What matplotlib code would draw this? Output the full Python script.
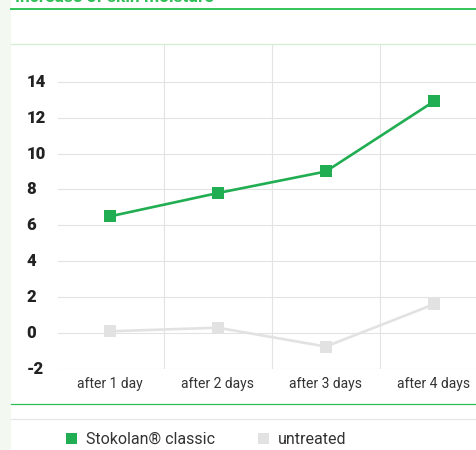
import matplotlib.pyplot as plt
from matplotlib.lines import Line2D
from matplotlib.patches import Rectangle

categories = ["after 1 day", "after 2 days", "after 3 days", "after 4 days"]
stokolan = [6.5, 7.8, 9.0, 12.9]
untreated = [0.1, 0.3, -0.75, 1.6]
yticks = [-2, 0, 2, 4, 6, 8, 10, 12, 14]

green = "#21ad52"
grey = "#e2e2e2"
W, H = 477, 450

fig = plt.figure(figsize=(W / 100, H / 100), dpi=100)
fig.patch.set_facecolor("white")

# left pale strip
fig.patches.append(Rectangle((0, 0), 11 / W, 1, transform=fig.transFigure,
                             facecolor="#f3f8f1", edgecolor="none", zorder=0))


def hline(ypx, color, lw, x0=11):
    y = 1 - ypx / H
    fig.add_artist(Line2D([x0 / W, 1], [y, y], transform=fig.transFigure,
                          color=color, lw=lw, zorder=1))


hline(8.5, "#1fbf4a", 1.3)
hline(44, "#d6eed6", 1.0)
hline(404, "#2fbf55", 0.9)
hline(419, "#e6e6e6", 0.9)

# title, mostly above the top edge as in the source
fig.text(15 / W, 1 - 2 / H, "Increase of skin moisture", color="#2fbf55",
         fontsize=12.5, fontweight="bold", family="Roboto", va="baseline")

ax = fig.add_axes([58 / W, 1 - 369 / H, 1 - 58 / W, (369 - 44) / H])
x = list(range(len(categories)))
ax.plot(x, untreated, color=grey, lw=1.9, marker="s", ms=8,
        markeredgewidth=0, zorder=3, clip_on=False)
ax.plot(x, stokolan, color=green, lw=1.9, marker="s", ms=8,
        markeredgewidth=0, zorder=4, clip_on=False)

ax.set_xlim(-0.48, 3.4)
ax.set_ylim(-2, 16.1)
ax.set_yticks(yticks)
ax.set_xticks(x)
ax.set_xticklabels(categories, family="Roboto", fontsize=10, color="#333333")
ax.set_xticks([0.5, 1.5, 2.5], minor=True)
ax.grid(axis="y", which="major", color="#e3e3e3", lw=0.8)
ax.grid(axis="x", which="minor", color="#e3e3e3", lw=0.8)
ax.set_axisbelow(True)
ax.tick_params(axis="both", which="both", length=0)
ax.tick_params(axis="x", pad=6)
ax.set_yticklabels([])
for s in ax.spines.values():
    s.set_visible(False)

# y labels, left aligned in the margin
for v in yticks:
    ax.text(22 / W - 58 / W, v, str(v), transform=ax.get_yaxis_transform(),
            family="Roboto", fontweight="heavy", fontsize=12,
            color="#222222", va="center", ha="left")

# legend
for xs, color, label in [(66, green, "Stokolan® classic"), (258, grey, "untreated")]:
    fig.patches.append(Rectangle((xs / W, 1 - 444 / H), 11 / W, 11 / H,
                                 transform=fig.transFigure, facecolor=color,
                                 edgecolor="none"))
    fig.text((xs + 20) / W, 1 - 439 / H, label, family="Roboto", fontsize=11.5,
             color="#333333", va="center", ha="left")

fig.savefig("out.png", dpi=100)
